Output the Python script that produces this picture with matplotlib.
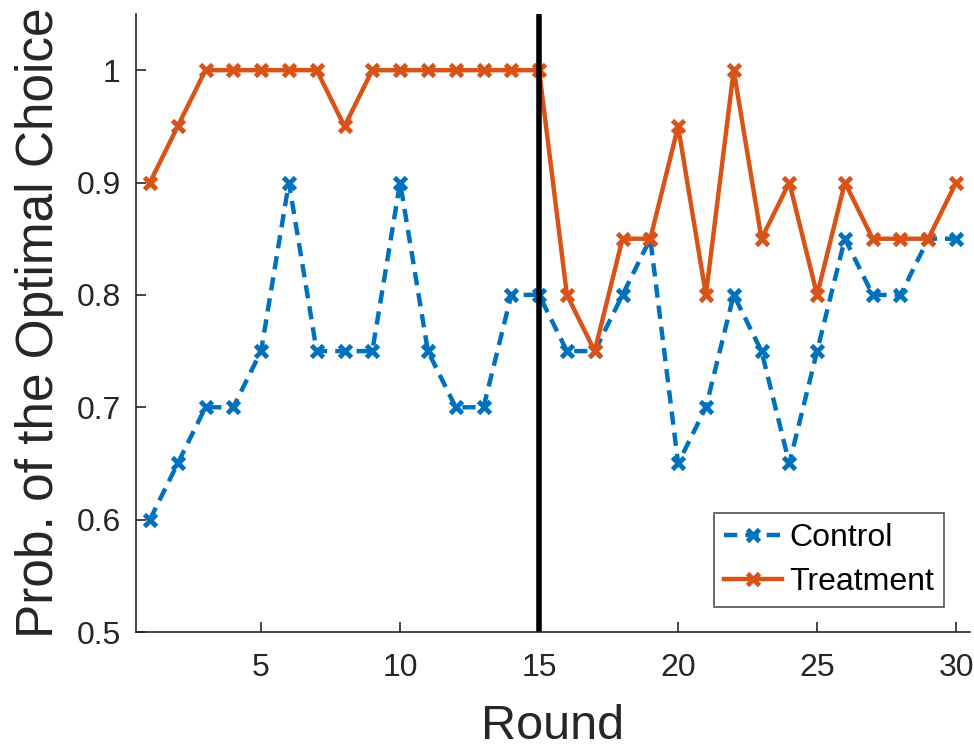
import matplotlib
matplotlib.use("Agg")
import matplotlib.pyplot as plt

rounds = list(range(1, 31))
control = [0.60, 0.65, 0.70, 0.70, 0.75, 0.90, 0.75, 0.75, 0.75, 0.90,
           0.75, 0.70, 0.70, 0.80, 0.80, 0.75, 0.75, 0.80, 0.85, 0.65,
           0.70, 0.80, 0.75, 0.65, 0.75, 0.85, 0.80, 0.80, 0.85, 0.85]
treatment = [0.90, 0.95, 1.00, 1.00, 1.00, 1.00, 1.00, 0.95, 1.00, 1.00,
             1.00, 1.00, 1.00, 1.00, 1.00, 0.80, 0.75, 0.85, 0.85, 0.95,
             0.80, 1.00, 0.85, 0.90, 0.80, 0.90, 0.85, 0.85, 0.85, 0.90]
xticks = [5, 10, 15, 20, 25, 30]
yticks = [0.5, 0.6, 0.7, 0.8, 0.9, 1.0]
yticklabels = ["0.5", "0.6", "0.7", "0.8", "0.9", "1"]
split_round = 15

plt.rcParams['font.family'] = ['Liberation Sans', 'DejaVu Sans']

fig = plt.figure(figsize=(9.74, 7.52), dpi=100)
ax = fig.add_axes([136/974, 1 - 632/752, (970-136)/974, (632-14)/752])

ax.plot(rounds, control, linestyle='--', color='#0072BD', lw=3.2,
        marker='x', ms=9, mew=3.5, label='Control', dashes=(3, 1.8))
ax.plot(rounds, treatment, linestyle='-', color='#D95319', lw=3.2,
        marker='x', ms=9, mew=3.5, label='Treatment')
ax.axvline(split_round, color='black', lw=4)

ax.set_xlim(0.5, 30.5)
ax.set_ylim(0.5, 1.05)
ax.set_xticks(xticks)
ax.set_yticks(yticks)
ax.set_yticklabels(yticklabels)
for s in ['top', 'right']:
    ax.spines[s].set_visible(False)
for s in ['left', 'bottom']:
    ax.spines[s].set_color('#262626')
    ax.spines[s].set_linewidth(1.2)
ax.tick_params(direction='in', length=7, width=1.2, colors='#262626',
               labelsize=23)
ax.tick_params(axis='x', pad=15)
ax.tick_params(axis='y', pad=11)
ax.set_xlabel('Round', fontsize=35, color='#262626', va='top')
ax.xaxis.set_label_coords(0.499, -0.1165)
ax.set_ylabel('Prob. of the Optimal Choice', fontsize=37, color='#262626')
ax.yaxis.set_label_coords(-0.086, 0.5)

leg = ax.legend(loc='lower right', bbox_to_anchor=(944/974, 1 - 607/752),
                bbox_transform=fig.transFigure, fontsize=23,
                frameon=True, fancybox=False, edgecolor='#262626',
                handlelength=1.8, borderpad=0.3, labelspacing=0.45,
                handletextpad=0.25, borderaxespad=0)
leg.get_frame().set_linewidth(1.2)

fig.savefig('out.png', dpi=100)
